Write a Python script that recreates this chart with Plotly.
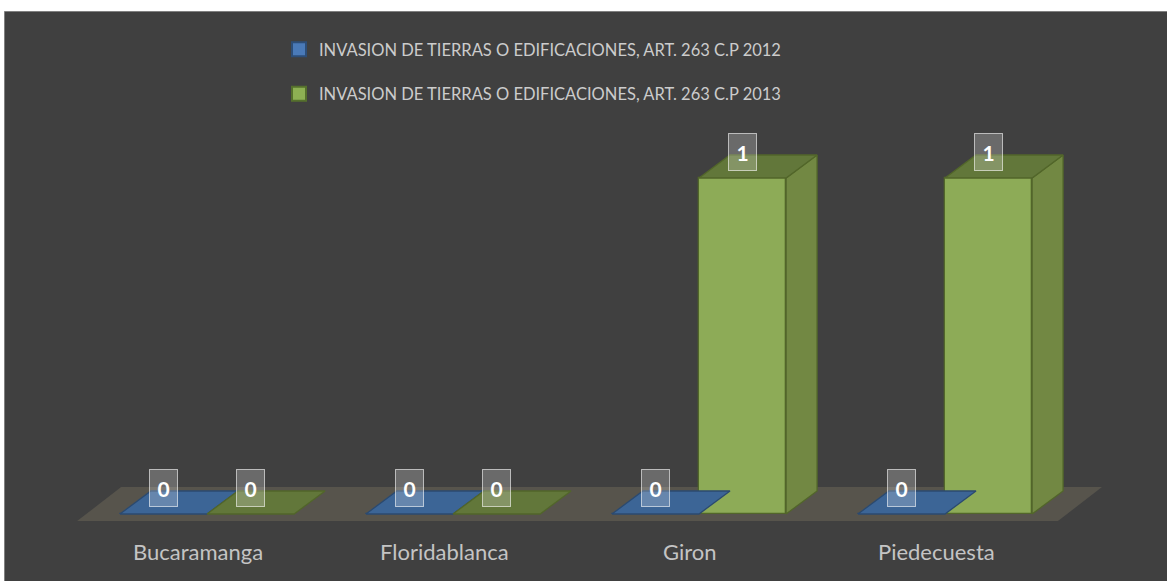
import plotly.graph_objects as go

# ---- data -------------------------------------------------------------
categories = ["Bucaramanga", "Floridablanca", "Giron", "Piedecuesta"]
series_names = [
    "INVASION DE TIERRAS O EDIFICACIONES, ART. 263 C.P 2012",
    "INVASION DE TIERRAS O EDIFICACIONES, ART. 263 C.P 2013",
]
values_2012 = [0, 0, 0, 0]
values_2013 = [0, 0, 1, 1]

# ---- 3D look (data units) --------------------------------------------
BAR_W = 0.354        # width of each bar's front face
DEPTH_X = 0.126      # oblique depth of a bar, horizontal part
DEPTH_Y = 0.0685     # oblique depth of a bar, vertical part
FLOOR_X = (-0.528, 3.459)
FLOOR_Y = -0.021
FLOOR_DX = 0.179
FLOOR_DY = 0.101
LABEL_LIFT = 0.077   # data label sits above the top of the front face
CAT_SHIFT = -0.035   # category labels sit a little left of the bar pair

FONT = "Lato, Open Sans, sans-serif"

styles = [
    dict(front="#4a7ab5", top="#3c6596", side="#2f5078", edge="#2b4a70",
         legend_fill="#4a7ab8", legend_edge="#2d4e78"),
    dict(front="#8dab57", top="#62773a", side="#728843", edge="#52662a",
         legend_fill="#8db053", legend_edge="#55702c"),
]
all_values = [values_2012, values_2013]

fig = go.Figure()

for s, (name, vals, st) in enumerate(zip(series_names, all_values, styles)):
    group = f"s{s}"
    offset = -BAR_W / 2 if s == 0 else BAR_W / 2
    centers = [i + offset for i in range(len(categories))]

    # front faces
    fig.add_trace(go.Bar(
        x=centers, y=vals, width=BAR_W, name=name, legendgroup=group,
        marker=dict(color=st["front"], line=dict(color=st["edge"], width=1.3)),
        hovertext=categories, hoverinfo="text+y", showlegend=False,
    ))

    # side and top faces of every bar in this series
    for xc, v in zip(centers, vals):
        x0, x1 = xc - BAR_W / 2, xc + BAR_W / 2
        if v > 0:
            fig.add_trace(go.Scatter(
                x=[x1, x1 + DEPTH_X, x1 + DEPTH_X, x1, x1],
                y=[0, DEPTH_Y, v + DEPTH_Y, v, 0],
                fill="toself", fillcolor=st["side"], mode="lines",
                line=dict(width=1.3, color=st["edge"]),
                legendgroup=group, hoverinfo="skip", showlegend=False,
            ))
        fig.add_trace(go.Scatter(
            x=[x0, x1, x1 + DEPTH_X, x0 + DEPTH_X, x0],
            y=[v, v, v + DEPTH_Y, v + DEPTH_Y, v],
            fill="toself", fillcolor=st["top"], mode="lines",
            line=dict(width=1.3, color=st["edge"]),
            legendgroup=group, hoverinfo="skip", showlegend=False,
        ))

    # legend swatch
    fig.add_trace(go.Scatter(
        x=[None], y=[None], mode="markers", name=name, legendgroup=group,
        marker=dict(symbol="square", size=14, color=st["legend_fill"],
                    line=dict(color=st["legend_edge"], width=2)),
        showlegend=True,
    ))

    # boxed data labels
    for xc, v in zip(centers, vals):
        fig.add_annotation(
            x=xc, y=v + LABEL_LIFT, xref="x", yref="y",
            text=f"<b>{v}</b>", showarrow=False,
            font=dict(family=FONT, size=21, color="white"),
            bgcolor="rgba(255,255,255,0.22)",
            bordercolor="rgba(255,255,255,0.6)", borderwidth=1, borderpad=0,
            width=27, height=36,
        )

# category labels under the floor
for i, cat in enumerate(categories):
    fig.add_annotation(
        x=i + CAT_SHIFT, y=-0.113, xref="x", yref="y", text=cat, showarrow=False,
        font=dict(family=FONT, size=22, color="#c4c4c4"),
    )

fx0, fx1 = FLOOR_X
floor_path = (
    f"M {fx0},{FLOOR_Y} L {fx1},{FLOOR_Y} "
    f"L {fx1 + FLOOR_DX},{FLOOR_Y + FLOOR_DY} L {fx0 + FLOOR_DX},{FLOOR_Y + FLOOR_DY} Z"
)

fig.update_layout(
    width=1167, height=581,
    margin=dict(l=0, r=0, t=0, b=0),
    paper_bgcolor="white", plot_bgcolor="rgba(0,0,0,0)",
    barmode="overlay", bargap=0,
    showlegend=True,
    legend=dict(
        x=279 / 1167, y=1 - 32 / 581, xanchor="left", yanchor="top",
        bgcolor="rgba(0,0,0,0)",
        font=dict(family=FONT, size=16.5, color="#cccccc"),
        tracegroupgap=20, itemclick="toggle",
    ),
    xaxis=dict(range=[-207 / 246, (1167 - 207) / 246], visible=False,
               domain=[0, 1], fixedrange=True),
    yaxis=dict(range=[(514 - 581) / 336, 514 / 336], visible=False,
               domain=[0, 1], fixedrange=True),
    shapes=[
        dict(type="rect", xref="paper", yref="paper",
             x0=4.5 / 1167, x1=1.01, y0=-0.01, y1=1 - 11.5 / 581,
             fillcolor="#404040", line=dict(color="#808080", width=1),
             layer="below"),
        dict(type="path", xref="x", yref="y", path=floor_path,
             fillcolor="#57544c", line=dict(width=0), layer="below"),
    ],
)

fig.write_html("out.html")
